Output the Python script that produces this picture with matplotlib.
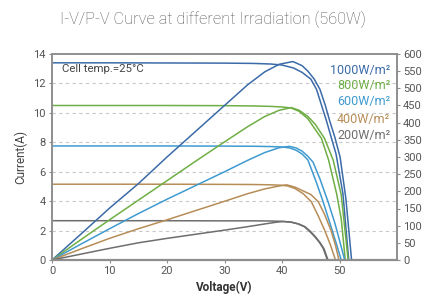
import matplotlib
matplotlib.use("Agg")
import matplotlib.pyplot as plt

plt.rcParams['font.family'] = ['Roboto', 'DejaVu Sans']

# irradiance labels and colours
labels = ['1000W/m²', '800W/m²', '600W/m²', '400W/m²', '200W/m²']
colors = ['#3b6ba8', '#6fae45', '#3f9ad0', '#b78d57', '#6e6e6e']

# I-V curves (voltage V, current A)
v_iv_1000 = [0, 10, 20, 30, 35, 38, 40, 42, 43.5, 45, 46, 47.7, 49.4, 50.6, 51.6]
i_iv_1000 = [13.40, 13.40, 13.39, 13.38, 13.36, 13.32, 13.25, 13.05, 12.75, 12.3, 11.6, 9.5, 7.2, 4.5, 0]
v_iv_800 = [0, 10, 20, 30, 35, 38, 40, 41.6, 43, 44.5, 46.85, 48.1, 49.5, 50.3, 51.0]
i_iv_800 = [10.5, 10.5, 10.5, 10.49, 10.47, 10.44, 10.4, 10.33, 10.1, 9.6, 8.27, 6.8, 4.5, 2.8, 0]
v_iv_600 = [0, 10, 20, 30, 35, 38, 40, 41.3, 42.5, 43.5, 44.5, 46, 47.15, 48.5, 49.5, 50.3]
i_iv_600 = [7.75, 7.75, 7.75, 7.74, 7.73, 7.71, 7.68, 7.62, 7.45, 7.2, 6.8, 5.25, 3.96, 2.3, 1.05, 0]
v_iv_400 = [0, 10, 20, 30, 35, 38, 40, 41, 42.3, 43.7, 45.1, 46.3, 47.4, 48.4, 49.3]
i_iv_400 = [5.15, 5.15, 5.15, 5.14, 5.13, 5.11, 5.08, 5.03, 4.85, 4.5, 3.96, 3.0, 2.04, 1.05, 0]
v_iv_200 = [0, 10, 20, 30, 35, 38, 40, 41.6, 42.8, 43.9, 44.8, 45.7, 46.5, 47.15, 47.9]
i_iv_200 = [2.67, 2.67, 2.67, 2.66, 2.66, 2.65, 2.63, 2.58, 2.45, 2.26, 1.95, 1.58, 1.2, 0.8, 0]

# P-V curves (voltage V, power W)
v_pv_1000 = [0, 5, 10, 15, 20, 25, 30, 34, 37, 39.5, 41.9, 43.5, 44.5, 45.6, 46.6, 47.5, 48.3, 49.2, 50.1, 51.1, 52.1]
p_pv_1000 = [0, 75, 151, 222, 300, 375, 450, 510, 548, 570, 578, 566, 550, 527, 497, 452, 405, 357, 300, 180, 0]
v_pv_800 = [0, 5, 10, 15, 20, 25, 30, 34, 37, 39.5, 41.6, 43, 44.5, 45.8, 47.4, 48.9, 50.3, 51.5]
p_pv_800 = [0, 59, 117, 174, 231, 288, 344, 388, 418, 436, 444, 436, 418, 395, 354, 291, 190, 0]
v_pv_600 = [0, 5, 10, 15, 20, 25, 30, 34, 37, 39.5, 41.3, 42.5, 43.5, 44.5, 45.4, 46.6, 48.0, 49.2, 50.1, 50.9]
p_pv_600 = [0, 46, 91, 135, 177, 217, 257, 290, 313, 327, 331, 326, 317, 302, 285, 236, 170, 107, 51, 0]
v_pv_400 = [0, 5, 10, 15, 20, 25, 30, 34, 37, 39, 40.8, 42.3, 43.7, 45, 46.3, 47.4, 48.5, 49.3, 49.9]
p_pv_400 = [0, 32, 63, 91, 117, 144, 171, 193, 207, 214, 219, 212, 201, 191, 170, 133, 87, 43, 0]
v_pv_200 = [0, 5, 10, 15, 20, 25, 30, 34, 37, 39, 40.2, 41.6, 42.9, 44.0, 44.9, 45.8, 46.6, 47.3, 48.0]
p_pv_200 = [0, 17, 34, 50, 63, 75, 87, 97, 105, 110, 112, 110, 105, 97, 84, 68, 51, 33, 0]

iv_curves = [(v_iv_1000, i_iv_1000), (v_iv_800, i_iv_800), (v_iv_600, i_iv_600),
             (v_iv_400, i_iv_400), (v_iv_200, i_iv_200)]
pv_curves = [(v_pv_1000, p_pv_1000), (v_pv_800, p_pv_800), (v_pv_600, p_pv_600),
             (v_pv_400, p_pv_400), (v_pv_200, p_pv_200)]

grey = '#555555'
spine_col = '#8e8e8e'

fig = plt.figure(figsize=(4.25, 2.96), dpi=100)
ax = fig.add_axes([52 / 425, 36 / 296, 345 / 425, 206 / 296])
ax2 = ax.twinx()

for (v, i), c in zip(iv_curves, colors):
    ax.plot(v, i, color=c, lw=1.1, solid_capstyle='butt')
for (v, p), c in zip(pv_curves, colors):
    ax2.plot(v, p, color=c, lw=1.1)

ax.set_xlim(0, 60)
ax.set_ylim(0, 14)
ax2.set_ylim(0, 600)
ax.set_xticks(range(0, 51, 10))
ax.set_yticks(range(0, 15, 2))
ax2.set_yticks(range(0, 601, 50))

for y in range(2, 13, 2):
    ax.axhline(y, color='#c8c8c8', lw=0.8, ls=(0, (3, 3)), zorder=0)

for a in (ax, ax2):
    for s in a.spines.values():
        s.set_color(spine_col)
        s.set_linewidth(1.2)
    a.tick_params(colors=spine_col, labelcolor=grey, labelsize=8, length=2.5, width=0.8, pad=2)
ax.spines['bottom'].set_linewidth(1.6)

ax.set_ylabel('Current(A)', color='#444444', fontsize=8.5, labelpad=4)
ax.set_xlabel('Voltage(V)', color='#333333', fontsize=8.5, fontweight='bold', labelpad=3)

ax.text(0.03, 0.925, 'Cell temp.=25°C', transform=ax.transAxes, color='#444444',
        fontsize=8.2, va='center', ha='left')

label_y = [0.922, 0.845, 0.767, 0.684, 0.602]
for lab, c, y in zip(labels, colors, label_y):
    ax.text(0.98, y, lab, transform=ax.transAxes, color=c, fontsize=9,
            ha='right', va='center')

fig.text(0.5, 0.935, 'I-V/P-V Curve at different Irradiation (560W)', ha='center',
         va='center', color='#555555', fontsize=11.8, fontweight='light')

fig.savefig('out.png', dpi=100)
